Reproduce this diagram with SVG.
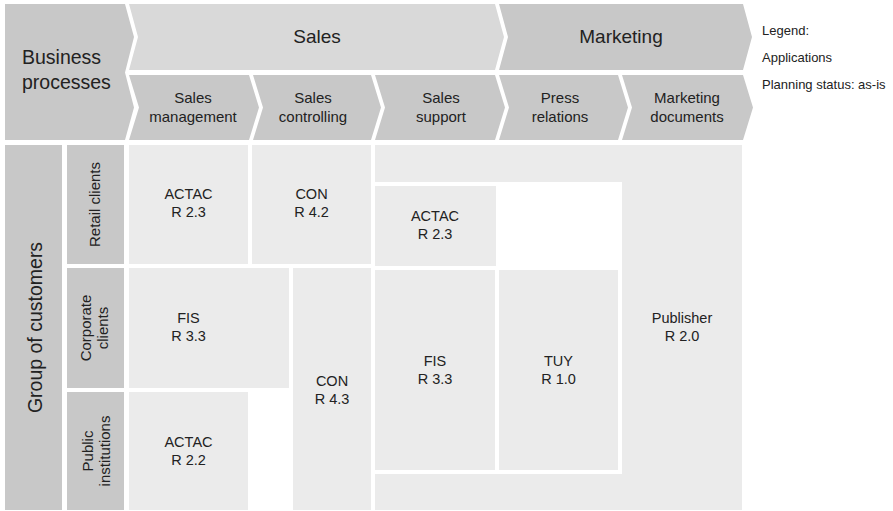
<svg xmlns="http://www.w3.org/2000/svg" width="893" height="511" viewBox="0 0 893 511">
<style>
text{font-family:"Liberation Sans",Arial,sans-serif;fill:#222}
.dk{fill:#c8c8c8}
.lt{fill:#d9d9d9}
.cell{fill:#ebebeb}
.h1{font-size:19px;text-anchor:middle}
.h2{font-size:15px;text-anchor:middle}
.c{font-size:14.5px;text-anchor:middle}
.lg{font-size:13px}
</style>
<rect width="893" height="511" fill="#fff"/>
<g id="business-processes">
<path class="dk" d="M5,4 H125 L134,37 L125,72.5 L134,107.5 L125,140 H5 Z"/>
<text x="22" y="64" font-size="19.5">Business</text>
<text x="22" y="89" font-size="19.5">processes</text>
</g>
<g id="sales">
<path class="lt" d="M129,4 H495 L504,37 L495,70 H129 L138,37 Z"/>
<text class="h1" x="317" y="43">Sales</text>
</g>
<g id="marketing">
<path class="dk" d="M499,4 H743 L752,37 L743,70 H499 L508,37 Z"/>
<text class="h1" x="621" y="43">Marketing</text>
</g>
<g id="sales-management">
<path class="dk" d="M129,75 H249 L259,107.5 L249,140 H129 L139,107.5 Z"/>
<text class="h2" x="193" y="103">Sales</text>
<text class="h2" x="193" y="122">management</text>
</g>
<g id="sales-controlling">
<path class="dk" d="M253,75 H371 L381,107.5 L371,140 H253 L263,107.5 Z"/>
<text class="h2" x="313" y="103">Sales</text>
<text class="h2" x="313" y="122">controlling</text>
</g>
<g id="sales-support">
<path class="dk" d="M375,75 H495 L505,107.5 L495,140 H375 L385,107.5 Z"/>
<text class="h2" x="441" y="103">Sales</text>
<text class="h2" x="441" y="122">support</text>
</g>
<g id="press-relations">
<path class="dk" d="M499,75 H618 L628,107.5 L618,140 H499 L509,107.5 Z"/>
<text class="h2" x="560" y="103">Press</text>
<text class="h2" x="560" y="122">relations</text>
</g>
<g id="marketing-documents">
<path class="dk" d="M622,75 H743 L753,107.5 L743,140 H622 L632,107.5 Z"/>
<text class="h2" x="687" y="103">Marketing</text>
<text class="h2" x="687" y="122">documents</text>
</g>
<g id="legend">
<text class="lg" x="762" y="35">Legend:</text>
<text class="lg" x="762" y="62">Applications</text>
<text class="lg" x="762" y="89">Planning status: as-is</text>
</g>
<g id="group-of-customers">
<rect class="dk" x="5" y="145" width="57" height="365"/>
<text transform="translate(42,327.5) rotate(-90)" font-size="19.5" text-anchor="middle">Group of customers</text>
</g>
<g id="retail-clients">
<rect class="dk" x="67" y="145" width="57" height="119"/>
<text transform="translate(100,204.5) rotate(-90)" font-size="15" text-anchor="middle">Retail clients</text>
</g>
<g id="corporate-clients">
<rect class="dk" x="67" y="268" width="57" height="120"/>
<text transform="translate(91,328) rotate(-90)" font-size="15" text-anchor="middle">Corporate</text>
<text transform="translate(108,328) rotate(-90)" font-size="15" text-anchor="middle">clients</text>
</g>
<g id="public-institutions">
<rect class="dk" x="67" y="392" width="57" height="118"/>
<text transform="translate(93,451) rotate(-90)" font-size="15" text-anchor="middle">Public</text>
<text transform="translate(110,451) rotate(-90)" font-size="15" text-anchor="middle">institutions</text>
</g>
<g id="actac-r23-mgmt">
<rect class="cell" x="129" y="145" width="119" height="119"/>
<text class="c" x="188.5" y="199">ACTAC</text>
<text class="c" x="188.5" y="217">R 2.3</text>
</g>
<g id="con-r42">
<rect class="cell" x="252" y="145" width="119" height="119"/>
<text class="c" x="311.5" y="199">CON</text>
<text class="c" x="311.5" y="217">R 4.2</text>
</g>
<g id="fis-r33-mgmt">
<rect class="cell" x="129" y="268" width="160" height="120"/>
<text class="c" x="188.5" y="323">FIS</text>
<text class="c" x="188.5" y="341">R 3.3</text>
</g>
<g id="con-r43">
<rect class="cell" x="293" y="268" width="78" height="242"/>
<text class="c" x="332" y="386">CON</text>
<text class="c" x="332" y="404">R 4.3</text>
</g>
<g id="actac-r22">
<rect class="cell" x="129" y="392" width="119" height="118"/>
<text class="c" x="188.5" y="447">ACTAC</text>
<text class="c" x="188.5" y="465">R 2.2</text>
</g>
<g id="publisher-r20">
<path class="cell" d="M375,145 H742 V510 H375 V474 H622 V182 H375 Z"/>
<text class="c" x="682" y="323">Publisher</text>
<text class="c" x="682" y="341">R 2.0</text>
</g>
<g id="actac-r23-support">
<rect class="cell" x="375" y="186" width="121" height="80"/>
<text class="c" x="435" y="221">ACTAC</text>
<text class="c" x="435" y="239">R 2.3</text>
</g>
<g id="fis-r33-support">
<rect class="cell" x="375" y="270" width="120" height="200"/>
<text class="c" x="435" y="366">FIS</text>
<text class="c" x="435" y="384">R 3.3</text>
</g>
<g id="tuy-r10">
<rect class="cell" x="499" y="270" width="119" height="200"/>
<text class="c" x="558.5" y="366">TUY</text>
<text class="c" x="558.5" y="384">R 1.0</text>
</g>
<g id="connectors"/>
</svg>
